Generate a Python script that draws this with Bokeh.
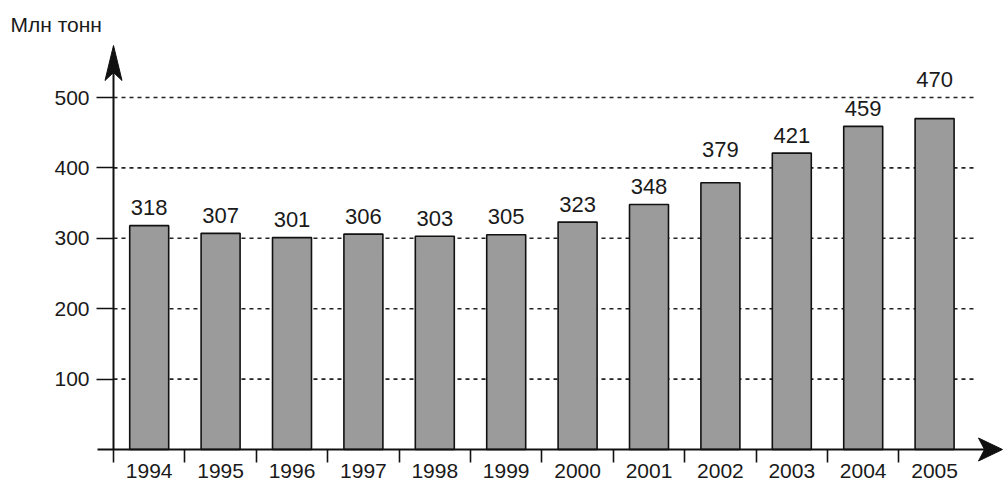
from bokeh.plotting import figure
from bokeh.models import FixedTicker, Label
from bokeh.core.properties import value
from bokeh.embed import file_html
from bokeh.resources import INLINE

# ---- data ----
years = ["1994", "1995", "1996", "1997", "1998", "1999",
         "2000", "2001", "2002", "2003", "2004", "2005"]
production = [318, 307, 301, 306, 303, 305, 323, 348, 379, 421, 459, 470]
y_ticks = [100, 200, 300, 400, 500]
unit_label = "Млн тонн"

# ---- pixel geometry ----
W, H = 1003, 480
X0_PX, Y0_PX = 113, 449          # pixel position of the origin
PX_PER_CAT = 71.4                # pixels per category
PX_PER_UNIT = 0.704              # pixels per million tonnes

def dx(px):
    return px / PX_PER_CAT

def dy(px):
    return px / PX_PER_UNIT

def xpx(px):
    return (px - X0_PX) / PX_PER_CAT

def ypx(px):
    return (Y0_PX - px) / PX_PER_UNIT

FONT = value("Liberation Sans")
INK = "#1a1a1a"
TEXT_SHIFT = dy(9)   # renderer draws alphabetic text a little low

p = figure(width=W, height=H,
           x_range=(xpx(0), xpx(W)), y_range=(ypx(H), ypx(0)),
           output_backend="svg", toolbar_location=None,
           min_border=0, min_border_left=0, min_border_right=0,
           min_border_top=0, min_border_bottom=0)
p.outline_line_color = None
p.grid.visible = False
p.background_fill_color = "white"

n = len(years)
centers = [i + 0.5 for i in range(n)]
boundaries = [float(i) for i in range(n)]

# dashed grid lines
p.segment(x0=[0] * len(y_ticks), y0=y_ticks,
          x1=[xpx(976)] * len(y_ticks), y1=y_ticks,
          line_color="#222222", line_width=1.6, line_dash="4 4")

# bars
p.vbar(x=centers, top=production, bottom=0, width=0.546,
       fill_color="#9b9b9b", line_color="#111111", line_width=1.6)

# value labels, lifted above a grid line when they would cross it
GAP = dy(9)
GLYPH_H = dy(16)
label_y = []
for v in production:
    b = v + GAP
    for g in y_ticks:
        if b - dy(2) < g < b + GLYPH_H + dy(3):
            b = g + GAP
    label_y.append(b + TEXT_SHIFT)

p.text(x=centers, y=label_y, text=[str(v) for v in production],
       text_align="center", text_baseline="alphabetic",
       text_font=FONT, text_font_size="22px", text_color=INK)

# x axis
xa = p.xaxis[0]
xa.fixed_location = 0
xa.ticker = FixedTicker(ticks=centers, minor_ticks=boundaries)
xa.major_label_overrides = {c: y for c, y in zip(centers, years)}
xa.major_tick_line_color = None
xa.major_tick_in = 0
xa.major_tick_out = 0
xa.minor_tick_in = 0
xa.minor_tick_out = 13
xa.minor_tick_line_color = "#111111"
xa.minor_tick_line_width = 1.6
xa.axis_line_color = "#111111"
xa.axis_line_width = 2
xa.bounds = (xpx(97), xpx(985))
xa.major_label_standoff = 1
xa.major_label_text_font = "Liberation Sans"
xa.major_label_text_font_size = "21px"
xa.major_label_text_color = INK

# y axis
ya = p.yaxis[0]
ya.fixed_location = 0
ya.ticker = FixedTicker(ticks=y_ticks, minor_ticks=[])
ya.bounds = (0, ypx(72))
ya.major_tick_in = 0
ya.major_tick_out = 17
ya.major_tick_line_color = "#111111"
ya.major_tick_line_width = 1.6
ya.minor_tick_line_color = None
ya.axis_line_color = "#111111"
ya.axis_line_width = 2
ya.major_label_standoff = 7
ya.major_label_text_font = "Liberation Sans"
ya.major_label_text_font_size = "21px"
ya.major_label_text_color = INK

# arrow heads
p.patch(x=[0, dx(8.5), 0, -dx(8.5)],
        y=[ypx(45), ypx(80), ypx(72), ypx(80)],
        fill_color="#111111", line_color="#111111", line_width=1)
p.patch(x=[xpx(1002), xpx(978), xpx(984), xpx(978)],
        y=[0, dy(11.5), 0, -dy(11.5)],
        fill_color="#111111", line_color="#111111", line_width=1)

# unit label
p.add_layout(Label(x=xpx(10), y=ypx(33) + TEXT_SHIFT, text=unit_label,
                   text_font="Liberation Sans", text_font_size="21px",
                   text_color=INK, text_baseline="alphabetic"))

open("out.html", "w").write(file_html(p, INLINE))
